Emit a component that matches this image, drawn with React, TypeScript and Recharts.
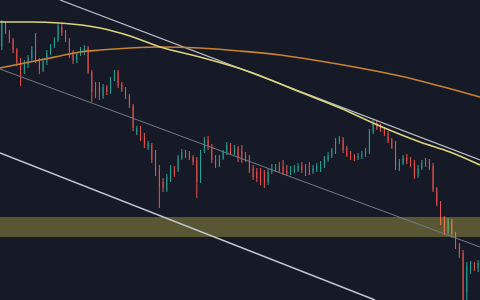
import React from 'react';
import {
  ComposedChart,
  Bar,
  Line,
  XAxis,
  YAxis,
  ReferenceLine,
  ReferenceArea,
} from 'recharts';

// OHLC per session (price units)
const opens = [
  253, 276, 268, 260, 250, 238, 230, 236, 242, 250, 239, 230, 238, 247, 254, 260,
  273, 267, 260, 248, 240, 246, 248, 252, 228, 212, 214, 204, 213, 208, 221, 228,
  216, 211, 204, 194, 167, 172, 164, 152, 155, 148, 130, 118, 110, 120, 131, 130,
  142, 148, 147, 143, 140, 120, 150, 160, 154, 142, 135, 142, 148, 155, 148, 152,
  150, 145, 142, 132, 128, 128, 126, 118, 128, 130, 132, 133, 130, 128, 129, 130,
  134, 132, 130, 128, 130, 130, 134, 140, 144, 148, 158, 161, 152, 147, 144, 142,
  143, 145, 148, 168, 177, 174, 171, 167, 160, 157, 131, 137, 142, 140, 138, 126,
  132, 136, 138, 134, 111, 97, 81, 69, 79, 66, 55, 47, 8, 30, 34, 32,
];
const highs = [
  280, 279, 270, 262, 252, 242, 240, 245, 254, 267, 242, 242, 250, 256, 263, 277,
  276, 270, 262, 250, 248, 253, 255, 254, 230, 218, 218, 216, 215, 223, 230, 230,
  218, 213, 206, 196, 174, 174, 167, 159, 157, 150, 135, 122, 126, 135, 134, 145,
  151, 150, 149, 145, 143, 150, 163, 164, 156, 145, 145, 150, 158, 157, 155, 154,
  155, 148, 145, 135, 132, 132, 130, 131, 136, 136, 138, 140, 135, 134, 135, 137,
  138, 136, 138, 135, 137, 139, 144, 148, 152, 162, 164, 163, 154, 149, 146, 147,
  149, 152, 171, 180, 180, 176, 173, 169, 162, 159, 141, 145, 146, 143, 140, 135,
  140, 142, 141, 137, 113, 99, 84, 82, 81, 68, 57, 50, 38, 39, 38, 40,
];
const lows = [
  250, 266, 257, 247, 234, 214, 226, 232, 239, 237, 226, 228, 235, 245, 252, 258,
  264, 258, 242, 236, 237, 244, 245, 226, 198, 202, 200, 201, 205, 206, 219, 212,
  208, 201, 192, 169, 165, 159, 152, 150, 137, 124, 92, 108, 108, 118, 123, 128,
  140, 142, 140, 135, 102, 117, 147, 150, 137, 132, 133, 140, 145, 145, 145, 138,
  137, 138, 127, 120, 118, 115, 112, 115, 126, 128, 128, 125, 124, 125, 127, 128,
  127, 124, 125, 126, 128, 128, 132, 138, 142, 146, 156, 147, 143, 140, 139, 140,
  141, 143, 146, 166, 170, 168, 164, 157, 151, 130, 129, 135, 136, 133, 121, 122,
  130, 133, 130, 108, 94, 75, 65, 66, 62, 51, 42, 0, 0, 26, 29, 28,
];
const closes = [
  277, 268, 260, 250, 238, 230, 236, 242, 250, 239, 230, 238, 247, 254, 260, 274,
  267, 260, 248, 240, 246, 250, 252, 228, 208, 206, 207, 213, 208, 221, 228, 214,
  210, 203, 194, 172, 172, 162, 155, 157, 140, 128, 114, 112, 123, 132, 126, 143,
  148, 145, 142, 138, 118, 147, 160, 153, 140, 135, 142, 148, 155, 148, 151, 142,
  140, 140, 130, 123, 122, 118, 117, 128, 132, 133, 130, 127, 126, 131, 132, 134,
  130, 127, 128, 132, 134, 136, 142, 145, 150, 159, 162, 150, 145, 142, 141, 144,
  146, 150, 169, 177, 172, 170, 166, 159, 153, 134, 138, 142, 139, 136, 124, 132,
  137, 138, 132, 110, 96, 78, 68, 79, 66, 54, 46, 0, 34, 36, 32, 37,
];

// Moving averages, sampled along the session index
const slowMaT = [0, 8, 16, 26.7, 34.7, 42.7, 53.3, 66.7, 80, 90.7, 101.3, 112, 120, 128];
const slowMaV = [278, 278, 277, 272, 264, 253, 243, 228, 208, 192, 174, 158, 148, 135];
const longMaT = [0, 5.3, 10.7, 16, 21.3, 26.7, 34.7, 42.7, 53.3, 64, 74.7, 85.3, 96, 106.7, 117.3, 128];
const longMaV = [232, 236, 240, 244, 248, 250, 252, 253, 252, 249, 245, 239, 232, 224, 214, 203];

// Trend channel anchors [t1, p1, t2, p2]
const upperTrend = [16, 300, 128, 140];
const midTrend = [0, 231, 128, 53];
const lowerTrend = [0, 147, 100, 0];

// Support zone
const zoneLow = 63;
const zoneHigh = 83;

const UP = '#26a69a';
const DOWN = '#ef5350';
const BG = '#161a26';

const candles = opens.map((o, i) => ({
  t: i + 0.5,
  open: o,
  close: closes[i],
  high: highs[i],
  low: lows[i],
  range: [lows[i], highs[i]],
}));

const slowMa = slowMaT.map((t, i) => ({ t, v: slowMaV[i] }));
const longMa = longMaT.map((t, i) => ({ t, v: longMaV[i] }));

const Candle = (props: any) => {
  const { x, y, width, height, payload } = props;
  if (payload == null || x == null) return null;
  const { open, close, high, low } = payload;
  const top = Math.min(y, y + height);
  const h = Math.abs(height);
  const span = high - low || 1;
  const py = (v: number) => top + ((high - v) / span) * h;
  const color = close >= open ? UP : DOWN;
  const cx = x + width / 2;
  const bTop = py(Math.max(open, close));
  const bBot = py(Math.min(open, close));
  return (
    <g>
      <line x1={cx} x2={cx} y1={top} y2={top + h} stroke={color} strokeWidth={1} />
      <rect x={x} y={bTop} width={width} height={Math.max(1, bBot - bTop)} fill={color} />
    </g>
  );
};

const seg = (a: number[]) => [
  { x: a[0], y: a[1] },
  { x: a[2], y: a[3] },
];

export default function App() {
  return (
    <div
      style={{
        position: 'absolute',
        left: 0,
        top: 0,
        width: 480,
        height: 300,
        background: BG,
        overflow: 'hidden',
      }}
    >
      <ComposedChart
        width={480}
        height={300}
        data={candles}
        margin={{ top: 0, right: 0, bottom: 0, left: 0 }}
      >
        <XAxis dataKey="t" type="number" domain={[0, 128]} hide allowDataOverflow />
        <YAxis type="number" domain={[0, 300]} hide allowDataOverflow />
        <Bar
          dataKey="range"
          barSize={3.4}
          shape={<Candle />}
          isAnimationActive={false}
        />
        <ReferenceArea
          y1={zoneLow}
          y2={zoneHigh}
          x1={0}
          x2={128}
          fill="#cfc24a"
          fillOpacity={0.36}
          stroke="none"
          ifOverflow="visible"
          zIndex={350}
        />
        <ReferenceLine
          segment={seg(midTrend)}
          stroke="#767a88"
          strokeWidth={1}
          ifOverflow="visible"
        />
        <ReferenceLine
          segment={seg(lowerTrend)}
          stroke="#c4c7cf"
          strokeWidth={1.5}
          ifOverflow="visible"
        />
        <ReferenceLine
          segment={seg(upperTrend)}
          stroke="#b8bcc6"
          strokeWidth={1.3}
          ifOverflow="visible"
        />
        <Line
          data={longMa}
          dataKey="v"
          type="monotone"
          stroke="#c8832e"
          strokeWidth={1.6}
          dot={false}
          isAnimationActive={false}
        />
        <Line
          data={slowMa}
          dataKey="v"
          type="monotone"
          stroke="#dcd47c"
          strokeWidth={1.6}
          dot={false}
          isAnimationActive={false}
        />
      </ComposedChart>
    </div>
  );
}
